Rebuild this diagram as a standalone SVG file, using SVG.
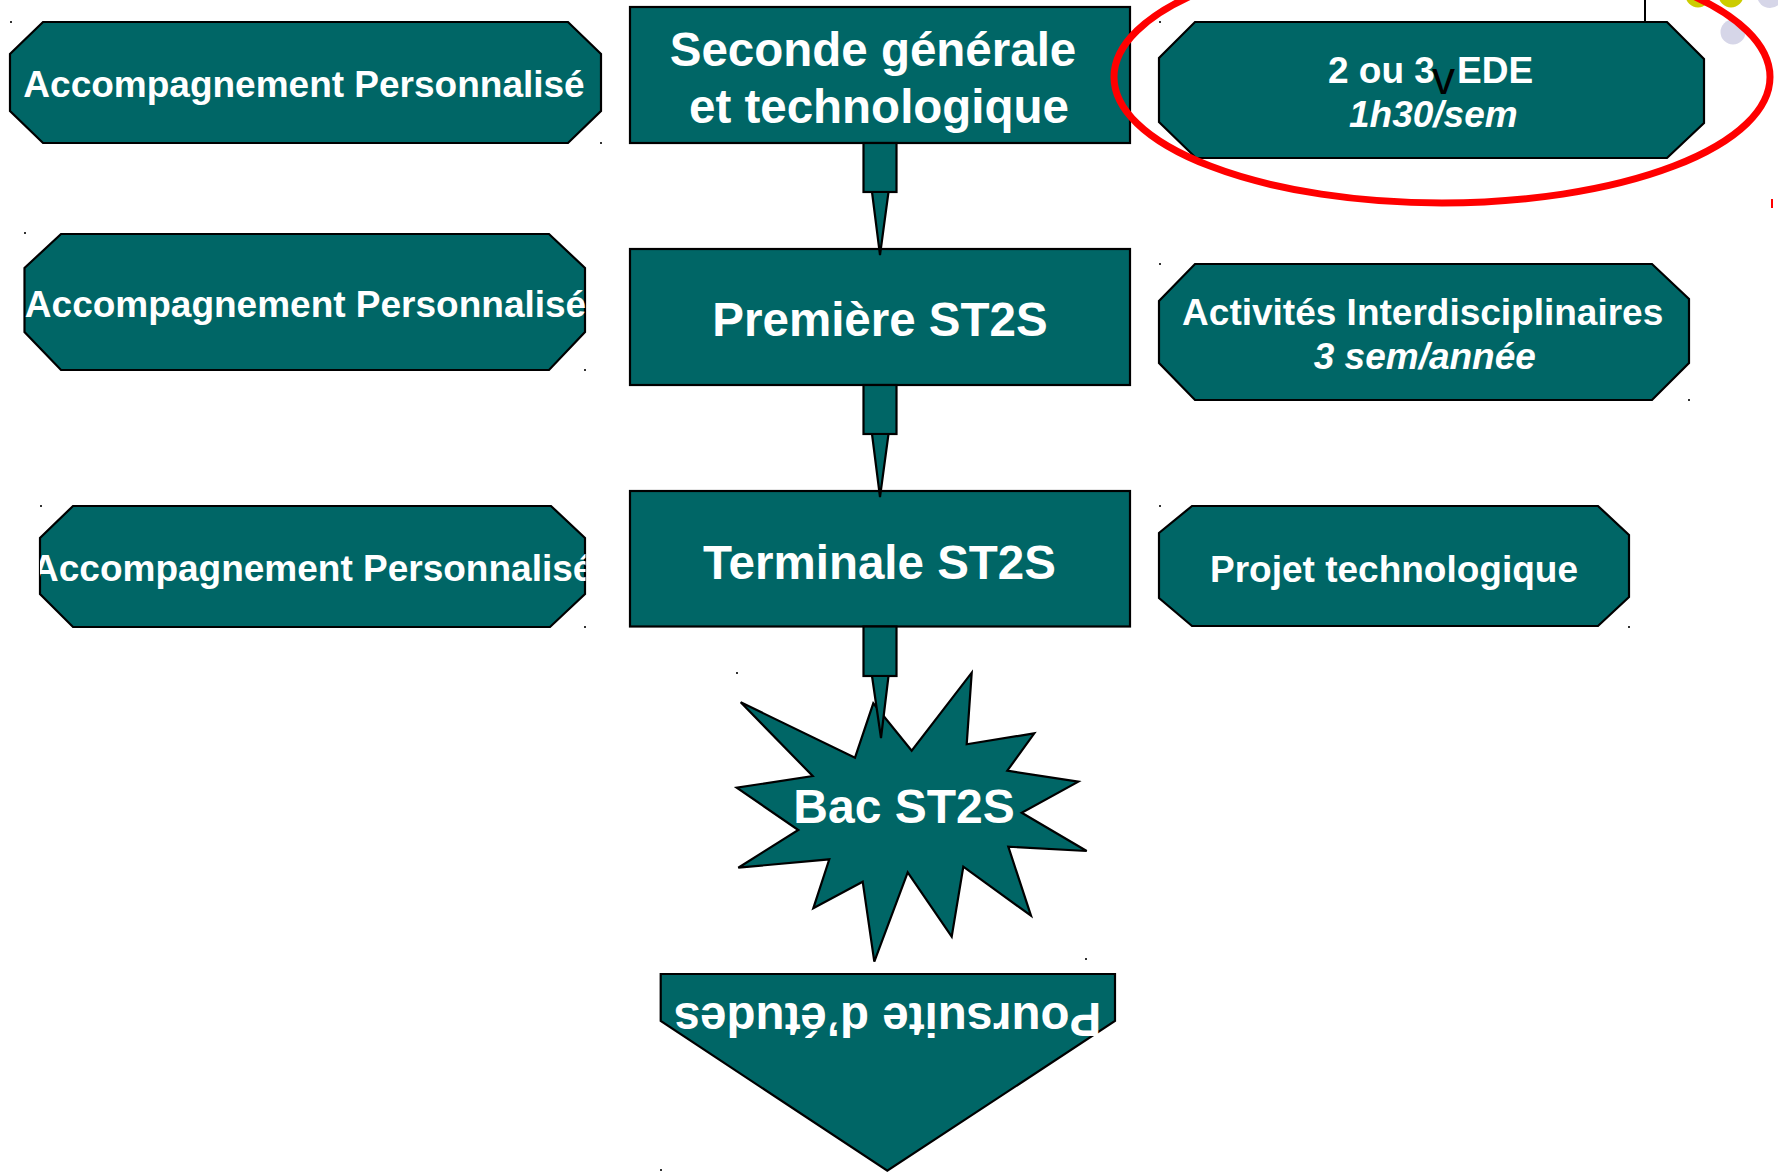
<svg xmlns="http://www.w3.org/2000/svg" width="1778" height="1173" viewBox="0 0 1778 1173">
<defs>
<style>
.box{fill:#006666;stroke:#000;stroke-width:2.2;stroke-linejoin:miter}
.t{font-family:"Liberation Sans",Arial,sans-serif;font-weight:bold;fill:#fff;text-anchor:middle}
.s37{font-size:37px}
.s47{font-size:47.5px}
.it{font-style:italic}
.dot{fill:#333}
</style>
<clipPath id="clipL3"><rect x="40" y="500" width="545.5" height="130"/></clipPath>
</defs>
<rect width="1778" height="1173" fill="#fff"/>

<g id="decor">
<line x1="1645" y1="0" x2="1645" y2="22" stroke="#000" stroke-width="2"/>
<circle cx="1698" cy="-5" r="12.5" fill="#CCCC00"/>
<circle cx="1731" cy="-5" r="12.5" fill="#CCCC00"/>
<circle cx="1770" cy="-5" r="13" fill="#D6D6E8"/>
<circle cx="1733" cy="32" r="12.5" fill="#D6D6E8"/>
</g>

<g id="node-seconde">
<rect class="box" x="630" y="7" width="500" height="136"/>
<text class="t s47" x="873" y="65.7">Seconde générale</text>
<text class="t s47" x="879" y="123.3">et technologique</text>
</g>
<g id="node-premiere">
<rect class="box" x="630" y="249" width="500" height="136"/>
<text class="t s47" x="880" y="335.5">Première ST2S</text>
</g>
<g id="node-terminale">
<rect class="box" x="630" y="491" width="500" height="135.5"/>
<text class="t s47" x="879.5" y="578.8">Terminale ST2S</text>
</g>

<g id="node-ap1">
<polygon class="box" points="43,22 568,22 601,54 601,111 568,143 43,143 10,111 10,54"/>
<text class="t s37" x="304" y="97">Accompagnement Personnalisé</text>
</g>
<g id="node-ap2">
<polygon class="box" points="61,234 549,234 585,268 585,332 549,370 61,370 24.5,332 24.5,268"/>
<text class="t s37" x="305.5" y="316.7">Accompagnement Personnalisé</text>
</g>
<g id="node-ap3">
<polygon class="box" points="73,506 551,506 585,538 585,594 550,627 73,627 40,594 40,538"/>
<text class="t s37" x="312.7" y="581" clip-path="url(#clipL3)">Accompagnement Personnalisé</text>
</g>

<g id="node-ede">
<polygon class="box" points="1195,22 1667,22 1704,59 1704,123 1667,158 1196,158 1159,122 1159,58"/>
<text class="t s37" y="83.3" style="text-anchor:start"><tspan x="1328">2 ou 3</tspan><tspan x="1457">EDE</tspan></text>
<text x="1443.5" y="94" style="font-family:'Liberation Sans',Arial,sans-serif;font-size:46px;fill:#000;text-anchor:middle">v</text>
<text class="t s37 it" x="1433.3" y="126.7">1h30/sem</text>
</g>
<g id="node-activites">
<polygon class="box" points="1195,264 1652,264 1689,299 1689,363 1652,400 1195,400 1159,363 1159,301"/>
<text class="t s37" x="1422.7" y="325">Activités Interdisciplinaires</text>
<text class="t s37 it" x="1424.8" y="369">3 sem/année</text>
</g>
<g id="node-projet">
<polygon class="box" points="1192,506 1598,506 1629,535 1629,597 1598,626 1192,626 1159,598 1159,533"/>
<text class="t s37" x="1394" y="581.7">Projet technologique</text>
</g>

<g id="node-bac">
<polygon class="box" points="740.7,702.3 855,757.7 873.3,703.3 911.7,750.7 971.7,672.7 966.7,744.3 1034.3,733.3 1007.3,770.7 1078.3,781.7 1021.7,812.7 1086.7,851 1008.3,846.7 1031,915.7 963.3,866.7 951.7,936.7 907.7,872.3 874.3,961.7 862.7,881.7 813.3,908.3 829.3,859.3 738.3,867.7 798.3,830 736.7,787.7 812.7,776"/>
<text class="t" x="904" y="823" style="font-size:48px">Bac ST2S</text>
</g>

<g id="node-poursuite">
<polygon class="box" points="660.7,974 1115,974 1115,1021 887.3,1170.7 660.7,1021"/>
<text class="t" transform="translate(887.5,1003) rotate(180)" x="0" y="0" style="font-size:47.5px">Poursuite d’études</text>
</g>

<g id="connectors">
<rect class="box" x="863.5" y="143" width="33" height="49"/>
<polygon class="box" points="872,192 888.5,192 880,255"/>
<rect class="box" x="863.5" y="385" width="33" height="49"/>
<polygon class="box" points="872,434 888.5,434 880,497"/>
<rect class="box" x="863.5" y="626.5" width="33" height="49.5"/>
<polygon class="box" points="872,676 888.5,676 881,738"/>
</g>

<g id="highlight">
<ellipse cx="1442" cy="77" rx="328" ry="126" fill="none" stroke="#FF0000" stroke-width="7"/>
<rect x="1771" y="199" width="2" height="9" fill="#FF0000"/>
</g>

<g id="marks">
<rect class="dot" x="10" y="21" width="2" height="2"/>
<rect class="dot" x="600" y="142" width="2" height="2"/>
<rect class="dot" x="24" y="232" width="2" height="2"/>
<rect class="dot" x="584" y="369" width="2" height="2"/>
<rect class="dot" x="40" y="505" width="2" height="2"/>
<rect class="dot" x="584" y="626" width="2" height="2"/>
<rect class="dot" x="1159" y="21" width="2" height="2"/>
<rect class="dot" x="1159" y="263" width="2" height="2"/>
<rect class="dot" x="1688" y="399" width="2" height="2"/>
<rect class="dot" x="1159" y="505" width="2" height="2"/>
<rect class="dot" x="1628" y="626" width="2" height="2"/>
<rect class="dot" x="736" y="672" width="2" height="2"/>
<rect class="dot" x="1085" y="958" width="2" height="2"/>
<rect class="dot" x="660" y="1169" width="2" height="2"/>
</g>
</svg>
